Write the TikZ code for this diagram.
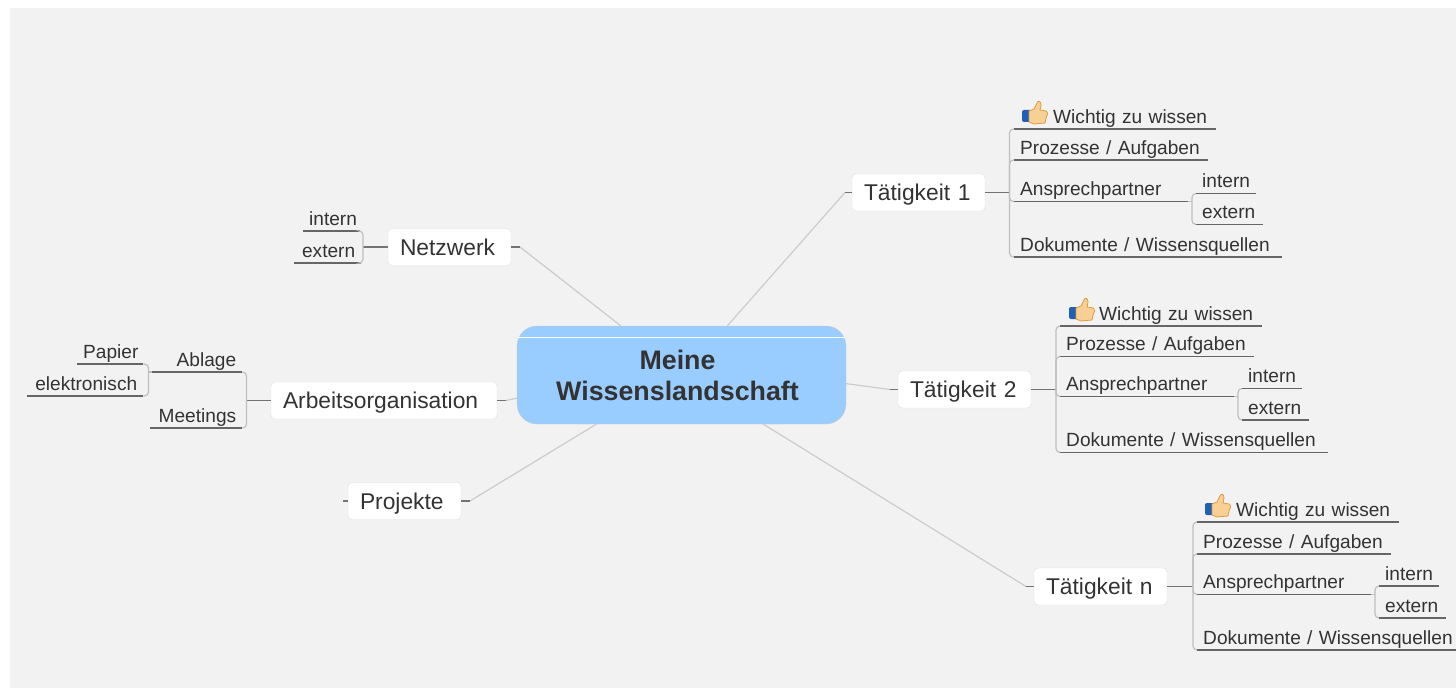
\documentclass[tikz,border=0pt]{standalone}
\usepackage{fontspec}
\setmainfont{Liberation Sans}
\definecolor{textDark}{HTML}{333333}
\definecolor{rootBlue}{HTML}{99CCFF}
\definecolor{paperGrey}{HTML}{F2F2F2}
\definecolor{thumbBlue}{HTML}{1F5FB5}
\definecolor{thumbSkin}{HTML}{F8CF94}
\definecolor{thumbEdge}{HTML}{E09A3C}
\tikzset{
thumbIcon/.pic={
\fill[thumbBlue, rounded corners=2pt] (-12,-4) rectangle (-2,8);
\filldraw[fill=thumbSkin, draw=thumbEdge, line width=0.8pt] (-5,-3) -- (0,-5) -- (3,-11) .. controls (4,-14) and (7,-13) .. (7,-9) -- (6,-4) -- (12,-3) .. controls (14,-2) and (14,2) .. (12,4) -- (11,9) -- (0,10) -- (-5,8) -- cycle;
}}
\begin{document}
\begin{tikzpicture}[x=1pt,y=-1pt,
rectRoot/.style={rectangle, draw=black!20, fill=rootBlue, minimum width=329pt, minimum height=98pt, inner sep=0pt, rounded corners=20pt, align=center, text=textDark, font=\fontsize{26.8}{31}\selectfont\bfseries},
rectTopic/.style={rectangle, draw=black!12, fill=white, minimum height=37pt, inner ysep=0pt, inner xsep=12pt, text width=#1, text height=20pt, text depth=4pt, rounded corners=4pt, align=left, text=textDark, font=\fontsize{22.8}{26}\selectfont},
rectSub/.style={rectangle, anchor=south west, text width=#1, inner xsep=6pt, inner ysep=0pt, text height=14pt, text depth=5.5pt, align=left, text=textDark, font=\fontsize{19.1}{22}\selectfont,
append after command={(\tikzlastnode.south west) edge[subRule] (\tikzlastnode.south east)}},
rectSubLeft/.style={rectSub=#1, align=right},
subRule/.style={draw=black!60, line width=1.4pt},
forkLine/.style={draw=black!25, line width=1.2pt, rounded corners=4pt},
stemLine/.style={draw=black!55, line width=1.2pt},
mainLine/.style={draw=black!20, line width=1.2pt}]

\useasboundingbox (0,0) rectangle (1456,690);
\fill[paperGrey] (10,8) rectangle (1456,688);

\node[rectRoot] (root) at (681.5,375) {Meine\hspace*{8pt}\\Wissenslandschaft\hspace*{8pt}};
\draw[white, line width=0.8pt] (518,337) -- (845,337);

\node[rectTopic=99pt] (netzwerk) at (449.5,247) {Netzwerk};
\node[rectTopic=202pt] (arbeit) at (384,400.5) {Arbeitsorganisation};
\node[rectTopic=89pt] (projekte) at (404.5,501) {Projekte};
\node[rectTopic=109pt] (taetig1) at (918.5,192.5) {Tätigkeit 1};
\node[rectTopic=109pt] (taetig2) at (964.5,389.5) {Tätigkeit 2};
\node[rectTopic=109pt] (taetign) at (1100.5,586.5) {Tätigkeit n};

% left side
\node[rectSubLeft=45pt] (netzIntern) at (303,231) {intern};
\node[rectSubLeft=55pt] (netzExtern) at (294,263) {extern};
\node[rectSubLeft=78pt] (ablage) at (152,372) {Ablage};
\node[rectSubLeft=80pt] (meetings) at (150,428) {Meetings};
\node[rectSubLeft=54pt] (papier) at (77,364) {Papier};
\node[rectSubLeft=104pt] (elektronisch) at (27,396) {elektronisch};

% Taetigkeit 1
\node[rectSub=190pt] (wichtig1) at (1014,129) {\hspace*{33pt}Wichtig zu wissen};
\node[rectSub=182pt] (prozesse1) at (1014,160) {Prozesse / Aufgaben};
\node[rectSub=162pt] (ansprech1) at (1014,201.5) {Ansprechpartner};
\node[rectSub=256pt] (doku1) at (1014,257) {Dokumente / Wissensquellen};
\node[rectSub=48pt] (intern1) at (1196,193.5) {intern};
\node[rectSub=55pt] (extern1) at (1196,224.5) {extern};
\pic at (1034,114) {thumbIcon};

% Taetigkeit 2
\node[rectSub=190pt] (wichtig2) at (1060,326) {\hspace*{33pt}Wichtig zu wissen};
\node[rectSub=182pt] (prozesse2) at (1060,356.5) {Prozesse / Aufgaben};
\node[rectSub=162pt] (ansprech2) at (1060,396.5) {Ansprechpartner};
\node[rectSub=256pt] (doku2) at (1060,452.5) {Dokumente / Wissensquellen};
\node[rectSub=48pt] (intern2) at (1242,388.5) {intern};
\node[rectSub=55pt] (extern2) at (1242,420) {extern};
\pic at (1081,311) {thumbIcon};

% Taetigkeit n
\node[rectSub=190pt] (wichtign) at (1197,522) {\hspace*{33pt}Wichtig zu wissen};
\node[rectSub=182pt] (prozessen) at (1197,554) {Prozesse / Aufgaben};
\node[rectSub=162pt] (ansprechn) at (1197,594.5) {Ansprechpartner};
\node[rectSub=256pt] (dokun) at (1197,650) {Dokumente / Wissensquellen};
\node[rectSub=48pt] (internn) at (1379,586) {intern};
\node[rectSub=55pt] (externn) at (1379,618) {extern};
\pic at (1217,507) {thumbIcon};

\coordinate (forkNetz) at (363,247);
\coordinate (forkArbeit) at (246.5,400.5);
\coordinate (forkAblage) at (148.5,372);
\coordinate (fork1) at (1009.5,192.5);
\coordinate (forkAn1) at (1192,201.5);
\coordinate (fork2) at (1056,389.5);
\coordinate (forkAn2) at (1238,396.5);
\coordinate (forkn) at (1193,586.5);
\coordinate (forkAnn) at (1375,594.5);

\coordinate (tickNetz) at (520,247);
\coordinate (tickArbeit) at (506,400.5);
\coordinate (tickProjekte) at (470,501);
\coordinate (tickProjekteL) at (343,501);
\coordinate (tick1) at (845,192.5);
\coordinate (tick2) at (890,389.5);
\coordinate (tickn) at (1026,586.5);

\path[mainLine] (root.141.5) edge (tickNetz)
		(root.188) edge (tickArbeit)
		(root.210.4) edge (tickProjekte)
		(root.47.8) edge (tick1)
		(root.-3.8) edge (tick2)
		(root.-31.3) edge (tickn);

\path[stemLine] (netzwerk) edge (tickNetz)
		(arbeit) edge (tickArbeit)
		(projekte) edge (tickProjekte)
		(projekte) edge (tickProjekteL)
		(taetig1) edge (tick1)
		(taetig2) edge (tick2)
		(taetign) edge (tickn);

\draw[stemLine] (netzwerk.west) -- (forkNetz);
\draw[stemLine] (arbeit.west) -- (forkArbeit);
\draw[stemLine] (taetig1.east) -- (fork1);
\draw[stemLine] (taetig2.east) -- (fork2);
\draw[stemLine] (taetign.east) -- (forkn);

\draw[forkLine] (netzIntern.south east) -| (forkNetz) |- (netzExtern.south east);
\draw[forkLine] (ablage.south east) -| (forkArbeit) |- (meetings.south east);
\draw[forkLine] (papier.south east) -| (forkAblage) |- (elektronisch.south east);
\draw[forkLine] (ablage.south west) -- (forkAblage);

\draw[forkLine] (wichtig1.south west) -| (fork1) |- (doku1.south west);
\draw[forkLine] (prozesse1.south west) -| (fork1);
\draw[forkLine] (ansprech1.south west) -| (fork1);
\draw[forkLine] (intern1.south west) -| (forkAn1) |- (extern1.south west);
\draw[forkLine] (ansprech1.south east) -- (forkAn1);

\draw[forkLine] (wichtig2.south west) -| (fork2) |- (doku2.south west);
\draw[forkLine] (prozesse2.south west) -| (fork2);
\draw[forkLine] (ansprech2.south west) -| (fork2);
\draw[forkLine] (intern2.south west) -| (forkAn2) |- (extern2.south west);
\draw[forkLine] (ansprech2.south east) -- (forkAn2);

\draw[forkLine] (wichtign.south west) -| (forkn) |- (dokun.south west);
\draw[forkLine] (prozessen.south west) -| (forkn);
\draw[forkLine] (ansprechn.south west) -| (forkn);
\draw[forkLine] (internn.south west) -| (forkAnn) |- (externn.south west);
\draw[forkLine] (ansprechn.south east) -- (forkAnn);

\end{tikzpicture}
\end{document}
